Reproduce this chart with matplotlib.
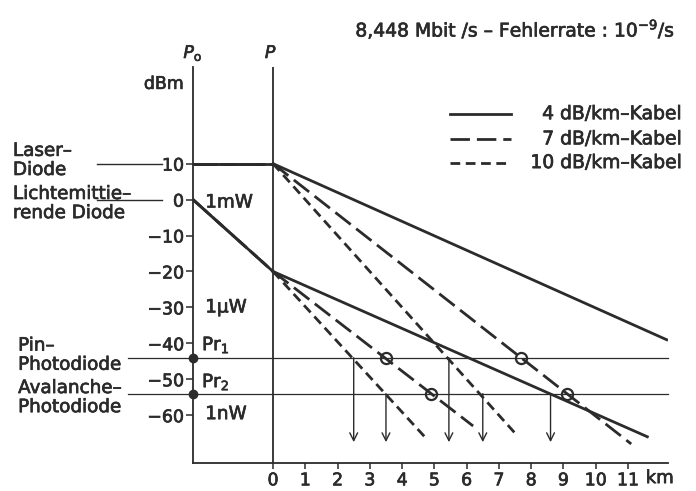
import matplotlib
matplotlib.use("Agg")
from matplotlib import pyplot as plt
from matplotlib import patheffects as pe

# values
cable_labels = ["4 dB/km\u2013Kabel", "7 dB/km\u2013Kabel", "10 dB/km\u2013Kabel"]
source_po = [10, 0]        # dBm at Po: laser, LED
source_p = [10, -20]       # dBm at P after coupling
laser_end_km = [12.2, 11.1, 7.5]
laser_end_dbm = [-39, -68, -65]
led_end_km = [11.6, 6.2, 4.7]
led_end_dbm = [-66, -63, -66]
pr_levels = [-44, -54]
circle_km = [3.5, 4.9, 7.7, 9.1]
circle_dbm = [-44, -54, -44, -54]
arrow_km = [2.5, 3.5, 5.45, 6.5, 8.6]
arrow_dbm = [-44, -54, -44, -54, -54]
arrow_end = -67.5
yticks = [10, 0, -10, -20, -30, -40, -50, -60]
xticks = list(range(0, 12))
po_km = -2.48

ink = "#2b2b2b"
bold = [pe.withStroke(linewidth=0.5, foreground=ink)]
plt.rcParams['font.family'] = ['DejaVu Sans']
plt.rcParams['mathtext.fontset'] = 'dejavusans'
plt.rcParams['mathtext.default'] = 'regular'
plt.rcParams['lines.scale_dashes'] = False
plt.rcParams['text.color'] = ink

styles = [dict(ls="-"), dict(ls=(0, (14, 5))), dict(ls=(0, (7, 4)))]

fig = plt.figure(figsize=(6.96, 4.91), dpi=100)
ax = fig.add_axes([193 / 696, 28 / 491, 475 / 696, 396 / 491])
ax.set_xlim(po_km, 12.24)
ax.set_ylim(-73.3, 36.9)

for s in ["top", "right"]:
    ax.spines[s].set_visible(False)
for s in ["left", "bottom"]:
    ax.spines[s].set_color(ink)
    ax.spines[s].set_linewidth(1.3)
ax.axvline(0, color=ink, lw=1.3)

ax.set_xticks(xticks)
ax.set_yticks(yticks)
ax.tick_params(axis="both", direction="out", color=ink, labelcolor=ink,
               labelsize=12.5, width=1.1)
ax.tick_params(axis="x", length=4, pad=2)
ax.tick_params(axis="y", length=5, pad=1.5)
for lab in ax.get_xticklabels() + ax.get_yticklabels():
    lab.set_path_effects(bold)
ax.text(11.55, -77.5, "km", fontsize=13, va="center", ha="left", path_effects=bold)

# coupling from Po to P
for st in styles:
    for i in range(2):
        ax.plot([po_km, 0], [source_po[i], source_p[i]], color=ink, lw=2.0, **st)

# cable lines
for i, st in enumerate(styles):
    ax.plot([0, laser_end_km[i]], [source_p[0], laser_end_dbm[i]], color=ink, lw=2.0, **st)
    ax.plot([0, led_end_km[i]], [source_p[1], led_end_dbm[i]], color=ink, lw=2.0, **st)

# receiver sensitivity levels
for lv in pr_levels:
    ax.plot([-4.49, 12.24], [lv, lv], color=ink, lw=0.9, clip_on=False)
    ax.plot(po_km, lv, "o", color=ink, ms=6, clip_on=False)
ax.plot(circle_km, circle_dbm, "o", mfc="none", mec=ink, mew=1.6, ms=8)

for km, lv in zip(arrow_km, arrow_dbm):
    ax.annotate("", xy=(km, arrow_end), xytext=(km, lv),
                arrowprops=dict(arrowstyle="->", color=ink, lw=1.0, mutation_scale=14,
                                shrinkA=0, shrinkB=0))

# source label lines
for lv in source_po:
    ax.plot([-5.45, -3.45], [lv, lv], color=ink, lw=1.0, clip_on=False)

txt = dict(fontsize=13.2, va="center", ha="left", linespacing=1.08, path_effects=bold)
ax.text(-8.06, 10.9, "Laser\u2013\nDiode", **txt)
ax.text(-8.06, -1.1, "Lichtemittie\u2013\nrende Diode", **txt)
ax.text(-7.9, -43.3, "Pin\u2013\nPhotodiode", **txt)
ax.text(-7.9, -55.1, "Avalanche\u2013\nPhotodiode", **txt)

ax.text(-2.1, -0.8, "1mW", **txt)
ax.text(-2.1, -30, "1\u00b5W", **txt)
ax.text(-2.1, -59.7, "1nW", **txt)
ax.text(-2.2, -40.5, "Pr$_1$", **txt)
ax.text(-2.2, -50.8, "Pr$_2$", **txt)

ax.text(po_km, 40.8, r"$\mathit{P}_{\mathrm{o}}$", fontsize=12.5, ha="center", va="center",
        path_effects=bold)
ax.text(-0.06, 40.8, r"$\mathit{P}$", fontsize=12.5, ha="center", va="center",
        path_effects=bold)
ax.text(-3.38, 32.2, "dBm", fontsize=12.5, ha="center", va="center", path_effects=bold)
ax.annotate("", xy=(-3.0, 27.2), xytext=(-3.0, 16.9),
            arrowprops=dict(arrowstyle="-|>", color=ink, lw=1.0, mutation_scale=12,
                            shrinkA=0, shrinkB=0))

ax.text(12.46, 47.5, "8,448 Mbit /s \u2013 Fehlerrate : 10$^{-9}$/s", fontsize=13.5,
        ha="right", va="center", path_effects=bold)

# legend drawn by hand
leg_y = [23.9, 16.9, 10.3]
for i, st in enumerate(styles):
    ax.plot([5.49, 7.38], [leg_y[i], leg_y[i]], color=ink, lw=2.0, **st)
    ax.text(12.67, leg_y[i], cable_labels[i], fontsize=13.5, ha="right", va="center",
            path_effects=bold)

fig.savefig("out.png", dpi=100, facecolor="white")
